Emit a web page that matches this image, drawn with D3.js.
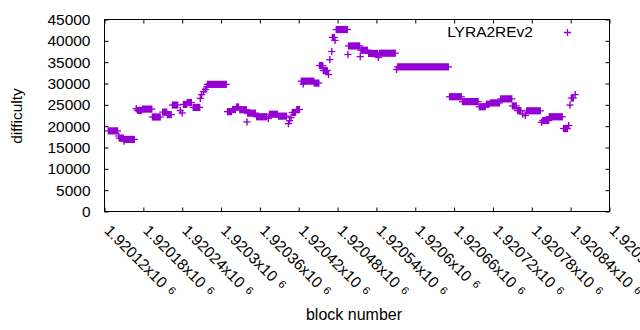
<!DOCTYPE html>
<html>
<head>
<meta charset="utf-8">
<script src="https://d3js.org/d3.v7.min.js"></script>
<style>
body { margin:0; background:#fff; }
svg text { font-family: "Liberation Sans", Arial, sans-serif; fill:#000; }
</style>
</head>
<body>
<svg id="myGraph" width="640" height="330"></svg>
<script>
// runs of blocks sharing one difficulty (single points have start == end)
var runStart = [1920126,1920142,1920143,1920150,1920151,1920169,1920171,1920179,1920194,1920210,
  1920217,1920225,1920237,1920240,1920242,1920248,1920257,1920268,1920270,1920273,
  1920276,1920278,1920279,1920310,1920318,1920324,1920329,1920340,1920341,1920355,
  1920373,1920375,1920389,1920404,1920406,1920408,1920410,1920417,1920424,1920427,
  1920444,1920452,1920458,1920466,1920468,1920471,1920472,1920476,1920478,1920496,
  1920497,1920515,1920516,1920528,1920543,1920545,1920571,1920573,1920653,1920673,
  1920699,1920710,1920716,1920732,1920750,1920758,1920766,1920770,1920772,1920795,
  1920797,1920807,1920829,1920837,1920839,1920841,1920847];
var runEnd = [1920140,1920142,1920149,1920150,1920166,1920169,1920177,1920193,1920206,1920216,
  1920223,1920233,1920237,1920240,1920247,1920254,1920267,1920268,1920270,1920273,
  1920276,1920278,1920308,1920316,1920322,1920327,1920339,1920340,1920353,1920370,
  1920373,1920387,1920401,1920404,1920406,1920408,1920415,1920421,1920443,1920427,
  1920451,1920457,1920464,1920466,1920468,1920471,1920475,1920476,1920495,1920496,
  1920514,1920515,1920526,1920542,1920543,1920569,1920571,1920651,1920671,1920697,
  1920708,1920714,1920730,1920749,1920756,1920763,1920766,1920770,1920793,1920795,
  1920806,1920827,1920835,1920837,1920839,1920844,1920847];
var runDiff = [18900,17700,17200,16500,16900,24100,23700,24000,22150,23300,
  22700,24950,23650,23100,25100,25550,24400,26500,27400,28100,
  28600,29200,29800,23400,23900,24500,23850,21000,23050,22200,
  21800,22800,22350,20600,21300,22000,23200,23900,30550,29900,
  30100,34200,33050,32100,35600,37500,40800,40100,42650,36800,
  38800,36300,37800,37050,36100,37100,33300,33900,26900,25750,
  24550,25150,25450,26400,24750,23650,22850,22500,23600,20900,
  21330,22200,19450,20150,24950,26600,27400];

var xTicks = [1920120,1920180,1920240,1920300,1920360,1920420,1920480,1920540,1920600,1920660,1920720,1920780,1920840,1920900];
var xTickLabels = ["1.92012","1.92018","1.92024","1.9203","1.92036","1.92042","1.92048","1.92054","1.9206","1.92066","1.92072","1.92078","1.92084","1.9209"];
var yTicks = [0,5000,10000,15000,20000,25000,30000,35000,40000,45000];
var seriesName = "LYRA2REv2";

window.addEventListener("load", function(){
var color = "#9400d3";
var plotL = 104.5, plotR = 609.5, plotT = 19.5, plotB = 211.5;
var arm = 3.6;	// half size of the "+" marker
var fs = "15.5px";

var svg = d3.select("#myGraph");
var x = d3.scaleLinear().domain([1920120, 1920900]).range([plotL, plotR]);
var y = d3.scaleLinear().domain([0, 45000]).range([plotB, plotT]);

drawScale();
drawGraph();
drawLegend();

function drawScale(){
	var tick = 4;
	// ticks on all four sides, pointing inward
	var bx = d3.axisBottom(x).tickValues(xTicks).tickSize(-tick).tickFormat("");
	svg.append("g").attr("transform", "translate(0," + plotB + ")").call(bx);
	var tx = d3.axisTop(x).tickValues(xTicks).tickSize(-tick).tickFormat("");
	svg.append("g").attr("transform", "translate(0," + plotT + ")").call(tx);

	var ly = d3.axisLeft(y).tickValues(yTicks).tickSize(-tick).tickPadding(14).tickFormat(d3.format("d"));
	var gl = svg.append("g").attr("transform", "translate(" + plotL + ",0)").call(ly);
	gl.selectAll("text").style("font-size", fs);
	var ry = d3.axisRight(y).tickValues(yTicks).tickSize(-tick).tickFormat("");
	svg.append("g").attr("transform", "translate(" + plotR + ",0)").call(ry);

	svg.selectAll(".domain").remove();
	svg.selectAll(".tick line").attr("stroke", "#000");
	svg.selectAll("g").attr("font-family", null);

	// frame
	svg.append("rect")
	  .attr("x", plotL).attr("y", plotT)
	  .attr("width", plotR - plotL).attr("height", plotB - plotT)
	  .attr("fill", "none").attr("stroke", "#000").attr("stroke-width", 1);

	// rotated x tick labels
	var lab = svg.append("g").selectAll("text")
	  .data(xTicks)
	  .enter().append("text")
	  .attr("transform", function(d){ return "translate(" + (x(d) - 1) + "," + (plotB + 20) + ") rotate(45)"; })
	  .style("font-size", fs);
	lab.append("tspan").text(function(d, i){ return xTickLabels[i] + "x10"; });
	lab.append("tspan").attr("dx", 6).attr("dy", -3).style("font-size", "11px").text("6");

	svg.append("text")
	  .attr("transform", "translate(22,116) rotate(-90)")
	  .attr("text-anchor", "middle")
	  .style("font-size", fs)
	  .text("difficulty");

	svg.append("text")
	  .attr("x", 354).attr("y", 320)
	  .attr("text-anchor", "middle")
	  .style("font-size", "16px")
	  .text("block number");
}

function drawGraph(){
	var g = svg.append("g");
	var runs = d3.range(runStart.length);
	// dense body of each run (vertical arms overlap into a block)
	g.selectAll("rect.body")
	  .data(runs)
	  .enter().append("rect")
	  .attr("class", "body")
	  .attr("x", function(i){ return x(runStart[i]) - 0.7; })
	  .attr("width", function(i){ return x(runEnd[i]) - x(runStart[i]) + 1.4; })
	  .attr("y", function(i){ return y(runDiff[i]) - arm; })
	  .attr("height", arm * 2)
	  .attr("fill", color);
	// horizontal arms
	g.selectAll("line.arm")
	  .data(runs)
	  .enter().append("line")
	  .attr("class", "arm")
	  .attr("x1", function(i){ return x(runStart[i]) - arm; })
	  .attr("x2", function(i){ return x(runEnd[i]) + arm; })
	  .attr("y1", function(i){ return y(runDiff[i]); })
	  .attr("y2", function(i){ return y(runDiff[i]); })
	  .attr("stroke", color).attr("stroke-width", 1.3);
}

function drawLegend(){
	svg.append("text")
	  .attr("x", 533).attr("y", 37)
	  .attr("text-anchor", "end")
	  .style("font-size", fs)
	  .text(seriesName);
	var cx = 567.5, cy = 32.5;
	svg.append("path")
	  .attr("d", "M" + (cx - arm) + "," + cy + "H" + (cx + arm) + "M" + cx + "," + (cy - arm) + "V" + (cy + arm))
	  .attr("stroke", color).attr("stroke-width", 1.3).attr("fill", "none");
}
});
</script>
</body>
</html>
